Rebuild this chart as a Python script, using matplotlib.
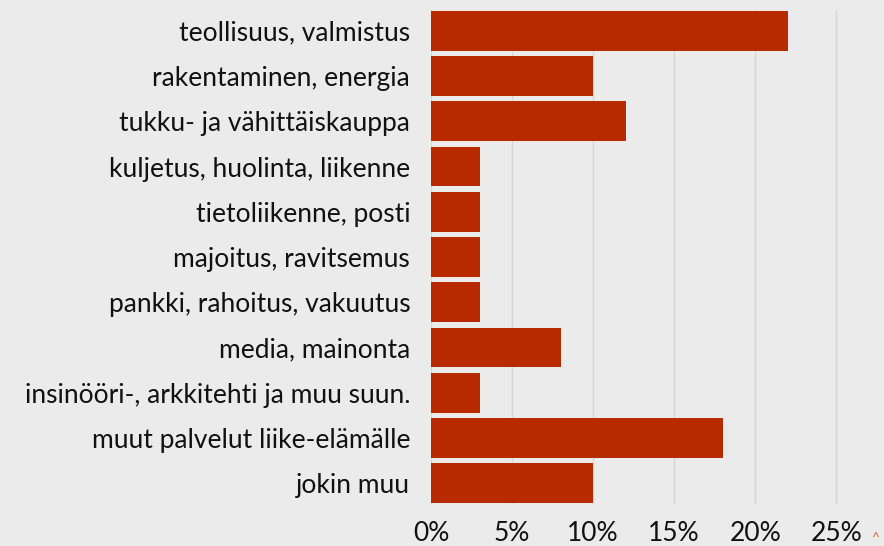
import matplotlib
matplotlib.use("Agg")
import matplotlib.pyplot as plt
from matplotlib.ticker import FuncFormatter

categories = [
    "teollisuus, valmistus",
    "rakentaminen, energia",
    "tukku- ja vähittäiskauppa",
    "kuljetus, huolinta, liikenne",
    "tietoliikenne, posti",
    "majoitus, ravitsemus",
    "pankki, rahoitus, vakuutus",
    "media, mainonta",
    "insinööri-, arkkitehti ja muu suun.",
    "muut palvelut liike-elämälle",
    "jokin muu",
]
values = [22, 10, 12, 3, 3, 3, 3, 8, 3, 18, 10]
xticks = [0, 5, 10, 15, 20, 25]

plt.rcParams['font.family'] = ['Lato', 'DejaVu Sans']
bg = '#ebebeb'
fig = plt.figure(figsize=(8.84, 5.46), dpi=100, facecolor=bg)
ax = fig.add_axes([0.4876, 0.0769, 0.5124, 0.9048], facecolor=bg)

y = list(range(len(categories)))
ax.barh(y, values, height=0.88, color='#b82a00', zorder=3)
ax.set_yticks(y)
ax.set_yticklabels(categories)
ax.set_ylim(len(categories) - 1 + 0.46, -0.46)
ax.set_xlim(0, 27.95)
ax.set_xticks(xticks)
ax.xaxis.set_major_formatter(FuncFormatter(lambda v, p: f"{int(v)}%"))
ax.grid(axis='x', color='#d6d6d6', linewidth=1.0, zorder=0)
ax.grid(axis='y', visible=False)
for s in ax.spines.values():
    s.set_visible(False)
ax.tick_params(axis='both', length=0, labelsize=19, colors='#111111')
ax.tick_params(axis='y', pad=15)
ax.tick_params(axis='x', pad=12)
fig.text(0.990, 0.003, "^", color='#e8602c', fontsize=10, ha='center', va='bottom')

fig.savefig("out.png", dpi=100, facecolor=bg)
